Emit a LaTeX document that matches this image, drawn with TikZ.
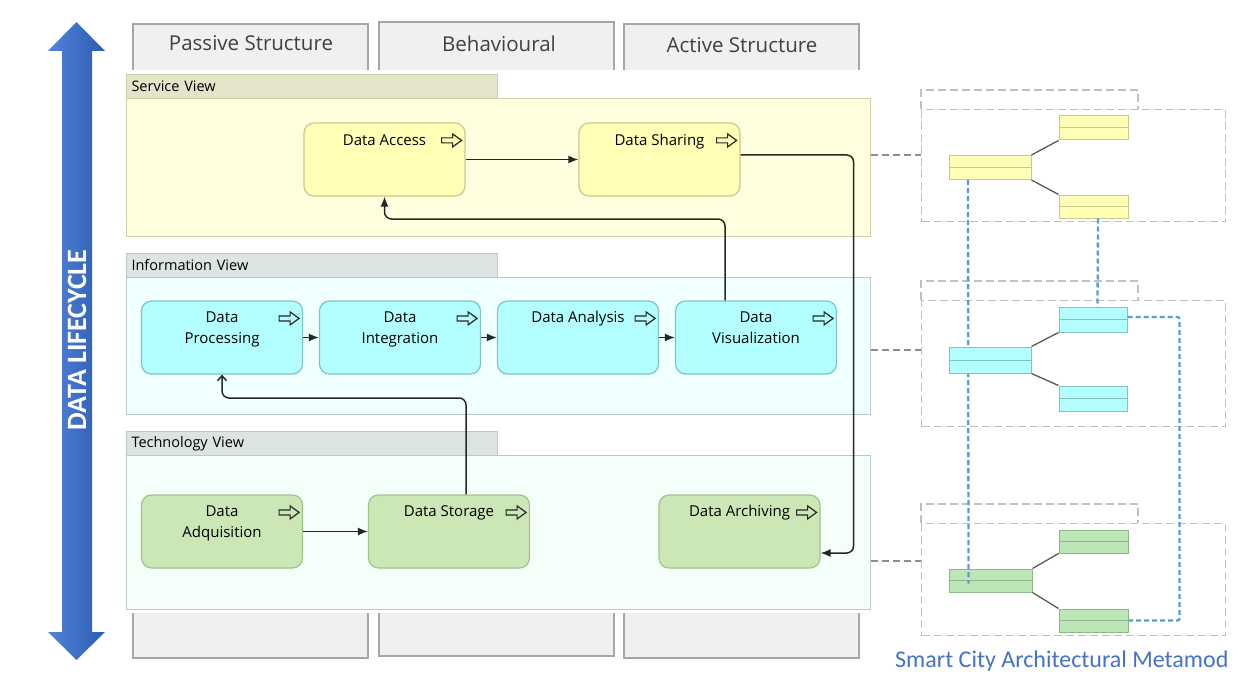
\documentclass[tikz,border=0pt]{standalone}
\usepackage{fontspec}
\setmainfont{Open Sans}
\newfontfamily\calib{Carlito}
\usetikzlibrary{arrows.meta,calc}

\definecolor{hdrfill}{HTML}{F0F0F0}
\definecolor{hdrline}{HTML}{A6A6A6}
\definecolor{svfill}{HTML}{FFFFE0}
\definecolor{svline}{HTML}{D0D0A8}
\definecolor{svtfill}{HTML}{E4E4CA}
\definecolor{infill}{HTML}{F0FFFF}
\definecolor{inline}{HTML}{B9C9C9}
\definecolor{intfill}{HTML}{DCE4E4}
\definecolor{tefill}{HTML}{F3FFF8}
\definecolor{tetfill}{HTML}{DCE4E1}
\definecolor{yelfill}{HTML}{FFFFB5}
\definecolor{yelline}{HTML}{C9C98F}
\definecolor{cyafill}{HTML}{B3FFFF}
\definecolor{cyaline}{HTML}{82C2C2}
\definecolor{grnfill}{HTML}{CCE7B6}
\definecolor{grnline}{HTML}{9EC48C}
\definecolor{mmgrn}{HTML}{BDE6B8}
\definecolor{mmgrnline}{HTML}{8DB98A}
\definecolor{framegray}{HTML}{BFBFBF}
\definecolor{linkgray}{HTML}{8C8C8C}
\definecolor{bluedash}{HTML}{5B9BD5}
\definecolor{titleblue}{HTML}{4472C4}
\definecolor{arrL}{HTML}{5384D8}
\definecolor{arrR}{HTML}{2C5BB3}

\begin{document}
\begin{tikzpicture}[x=1pt,y=-1pt,
  hdrtext/.style={font=\fontsize{20.5}{24}\selectfont, text=black!75, inner sep=0pt},
  hdrbox/.style={draw=hdrline, line width=1.2pt},
  vbody/.style={line width=1pt, anchor=north west, inner sep=0pt, minimum width=744pt},
  vtitle/.style={draw=#1, line width=1pt, anchor=north west, inner xsep=5pt, inner ysep=0pt,
     text width=361pt, align=left, minimum height=24pt, font=\fontsize{14.5}{17}\selectfont, text=black},
  procbox/.style={rounded corners=10pt, line width=1.2pt, minimum width=161pt, minimum height=73pt, inner sep=0pt},
  lbl/.style={anchor=base, align=center, inner sep=0pt, font=\fontsize{15}{20.5}\selectfont, text=black},
  ico/.pic={\draw[line width=1.2pt, draw=black!85, line join=miter] (-10,-2.5) -- (1,-2.5) -- (1,-6.5) -- (10,0) -- (1,6.5) -- (1,2.5) -- (-10,2.5) -- cycle;},
  conn/.style={draw=black!85, line width=1.5pt, -{Latex[length=10pt,width=8pt]}, rounded corners=7pt},
  conntwo/.style={draw=black!85, line width=1.5pt, -{Straight Barb[length=5pt,width=9pt]}, rounded corners=7pt},
  frm/.style={draw=framegray, line width=1.3pt, dash pattern=on 8pt off 4pt, inner sep=0pt, anchor=north west},
  lnk/.style={draw=linkgray, line width=1.4pt, dash pattern=on 7pt off 4pt},
  mm/.style={draw=#1, line width=1pt, inner sep=0pt},
  tree/.style={draw=black!65, line width=1.3pt},
  bl/.style={draw=bluedash, line width=2.3pt, dash pattern=on 5pt off 3pt}
]
\useasboundingbox (0,0) rectangle (1234,682);

% ---------- column headers and footers ----------
\fill[hdrfill] (133,24) rectangle (368,70);
\draw[hdrbox] (133,70) -- (133,24) -- (368,24) -- (368,70);
\node[hdrtext] (hp) at (251,43) {Passive Structure};
\fill[hdrfill] (379,22) rectangle (614,70);
\draw[hdrbox] (379,70) -- (379,22) -- (614,22) -- (614,70);
\node[hdrtext] (hb) at (499,44) {Behavioural};
\fill[hdrfill] (624,24) rectangle (859,70);
\draw[hdrbox] (624,70) -- (624,24) -- (859,24) -- (859,70);
\node[hdrtext] (ha) at (742,45) {Active Structure};

\fill[hdrfill] (133,613) rectangle (368,658);
\draw[hdrbox] (133,613) -- (133,658) -- (368,658) -- (368,613);
\fill[hdrfill] (379,613) rectangle (614,656);
\draw[hdrbox] (379,613) -- (379,656) -- (614,656) -- (614,613);
\fill[hdrfill] (624,613) rectangle (859,658);
\draw[hdrbox] (624,613) -- (624,658) -- (859,658) -- (859,613);

% ---------- views ----------
\node[vbody, draw=svline, fill=svfill, minimum height=138pt] (sv) at (126,98) {};
\node[vtitle=svline, fill=svtfill] (svt) at (126,74) {Service View};
\node[vbody, draw=inline, fill=infill, minimum height=137pt] (iv) at (126,277) {};
\node[vtitle=inline, fill=intfill] (ivt) at (126,253) {Information View};
\node[vbody, draw=inline, fill=tefill, minimum height=154pt] (tv) at (126,455) {};
\node[vtitle=inline, fill=tetfill] (tvt) at (126,431) {Technology View};

% ---------- elements ----------
\node[procbox, fill=yelfill, draw=yelline] (acc) at (384.5,159.5) {};
\node[procbox, fill=yelfill, draw=yelline] (shar) at (659.5,159.5) {};
\node[procbox, fill=cyafill, draw=cyaline] (proc) at (222,337.5) {};
\node[procbox, fill=cyafill, draw=cyaline] (integ) at (400,337.5) {};
\node[procbox, fill=cyafill, draw=cyaline] (anal) at (578,337.5) {};
\node[procbox, fill=cyafill, draw=cyaline] (vis) at (756,337.5) {};
\node[procbox, fill=grnfill, draw=grnline] (adq) at (222,531.5) {};
\node[procbox, fill=grnfill, draw=grnline] (stor) at (449,531.5) {};
\node[procbox, fill=grnfill, draw=grnline] (arch) at (739.5,531.5) {};

\node[lbl] (accT) at ($(acc.north)+(0,23.5)$) {Data Access};
\node[lbl] (sharT) at ($(shar.north)+(0,23.5)$) {Data Sharing};
\node[lbl] (procT) at ($(proc.north)+(0,43)$) {Data\\Processing};
\node[lbl] (integT) at ($(integ.north)+(0,43)$) {Data\\Integration};
\node[lbl] (analT) at ($(anal.north)+(0,22)$) {Data Analysis};
\node[lbl] (visT) at ($(vis.north)+(0,43)$) {Data\\Visualization};
\node[lbl] (adqT) at ($(adq.north)+(0,43)$) {Data\\Adquisition};
\node[lbl] (storT) at ($(stor.north)+(0,22)$) {Data Storage};
\node[lbl] (archT) at ($(arch.north)+(0,22)$) {Data Archiving};

\foreach \n in {acc,shar,proc,integ,anal,vis,adq,stor,arch}{
  \pic at ($(\n.north east)+(-14,18)$) {ico};
}

% ---------- connectors ----------
\draw[conn] (acc) -- (shar);
\draw[conn] (proc) -- (integ);
\draw[conn] (integ) -- (anal);
\draw[conn] (anal) -- (vis);
\draw[conn] (adq) -- (stor);
\coordinate (sharOut) at ([yshift=4.5pt]shar.east);
\coordinate (archIn) at ([yshift=-21.5pt]arch.east);
\draw[conn] (sharOut) -- ++(113,0) |- (archIn);
\coordinate (visUp) at ([xshift=-31pt]vis.north);
\draw[conn] (visUp) -- (visUp |- 0,219) -| (acc.south);
\coordinate (storUp) at ([xshift=17pt]stor.north);
\draw[conntwo] (storUp) -- (storUp |- 0,398) -| (proc.south);

% ---------- metamodel frames ----------
\node[frm, minimum width=304pt, minimum height=112pt] (f1) at (921,109) {};
\draw[frm] (921,109) -- (921,90) -- (1138,90) -- (1138,109);
\node[frm, minimum width=304pt, minimum height=126pt] (f2) at (921,300) {};
\draw[frm] (921,300) -- (921,281) -- (1138,281) -- (1138,300);
\node[frm, minimum width=304pt, minimum height=112pt] (f3) at (921,523) {};
\draw[frm] (921,523) -- (921,504) -- (1138,504) -- (1138,523);

\draw[lnk] (sv.east |- 0,155) -- (f1.west |- 0,155);
\draw[lnk] (iv.east |- 0,350) -- (f2.west |- 0,350);
\draw[lnk] (tv.east |- 0,561) -- (f3.west |- 0,561);

% yellow classes
\node[mm=yelline, fill=yelfill, minimum width=82pt, minimum height=24pt] (ym) at (990,167.5) {};
\node[mm=yelline, fill=yelfill, minimum width=69pt, minimum height=24pt] (ytr) at (1093.5,128) {};
\node[mm=yelline, fill=yelfill, minimum width=69pt, minimum height=23pt] (ybr) at (1093.5,206.5) {};
\foreach \n in {ym,ytr,ybr}{\draw[yelline, line width=1pt] (\n.west) -- (\n.east);}
\draw[tree] (ym.north east) -- (ytr.south west);
\draw[tree] (ym.south east) -- (ybr.north west);

% green classes
\node[mm=mmgrnline, fill=mmgrn, minimum width=83pt, minimum height=23pt] (gm) at (990.5,580.5) {};
\node[mm=mmgrnline, fill=mmgrn, minimum width=69pt, minimum height=23pt] (gtr) at (1093.5,541.5) {};
\node[mm=mmgrnline, fill=mmgrn, minimum width=69pt, minimum height=23pt] (gbr) at (1093.5,620.5) {};
\foreach \n in {gm,gtr,gbr}{\draw[mmgrnline, line width=1pt] (\n.west) -- (\n.east);}
\draw[tree] (gm.north east) -- (gtr.south west);
\draw[tree] (gm.south east) -- (gbr.north west);

\coordinate (gmEnd) at ([xshift=-22pt,yshift=-3pt]gm.center);
\draw[bl] ([xshift=-22pt]ym.south) -- (gmEnd);

% cyan classes
\node[mm=cyaline, fill=cyafill, minimum width=82pt, minimum height=26pt] (cm) at (990,360) {};
\node[mm=cyaline, fill=cyafill, minimum width=68pt, minimum height=25pt] (ctr) at (1093,319.5) {};
\node[mm=cyaline, fill=cyafill, minimum width=68pt, minimum height=25pt] (cbr) at (1093,398.5) {};
\foreach \n in {cm,ctr,cbr}{\draw[cyaline, line width=1pt] (\n.west) -- (\n.east);}
\draw[tree] (cm.north east) -- (ctr.south west);
\draw[tree] (cm.south east) -- (cbr.north west);

\draw[bl] ([xshift=4.5pt]ybr.south) -- ([xshift=4.5pt]ctr.north);
\draw[bl, rounded corners=2pt] ([yshift=2.5pt]ctr.east) -- ++(52,0) |- (gbr.east);

\node[font=\calib\fontsize{24}{28}\selectfont, text=titleblue, anchor=west, inner sep=0pt] (smt) at (895,661) {Smart City Architectural Metamod};

% ---------- data lifecycle arrow ----------
\shade[left color=arrL, right color=arrR] (76.5,22) -- (105,51) -- (92,51) -- (92,632) -- (105,632) -- (76.5,660) -- (48,632) -- (62,632) -- (62,51) -- (48,51) -- cycle;
\node[rotate=90, text=white, inner sep=0pt, font=\calib\bfseries\fontsize{28}{32}\selectfont] (dl) at (77,340) {DATA LIFECYCLE};

\end{tikzpicture}
\end{document}
